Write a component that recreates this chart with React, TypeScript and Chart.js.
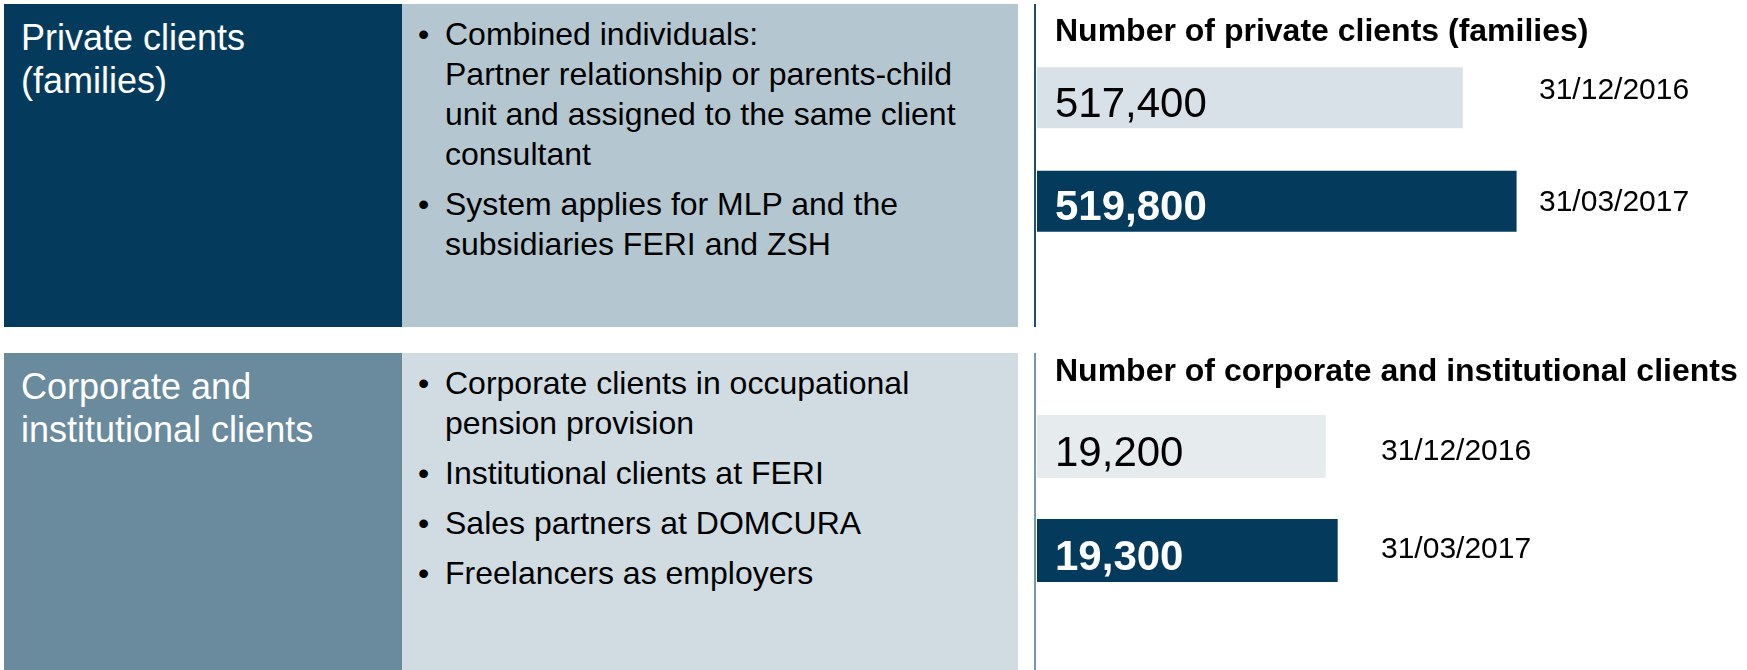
import React, { useEffect, useRef } from 'react';
import { Chart, registerables } from 'chart.js';

Chart.register(...registerables);

const FONT = '"Liberation Sans", Arial, Helvetica, sans-serif';
const NAVY = '#043b5c';

// ---- data ----
const DATES = ['31/12/2016', '31/03/2017'];
const PRIVATE_VALUES = [517400, 519800];
const CORPORATE_VALUES = [19200, 19300];
const PRIVATE_RANGE = [498400, 520800];
const CORPORATE_RANGE = [16800, 19660];
// range of the right-hand date axis (index units)
const PRIVATE_DATE_RANGE = [-0.404, 1.449];
const CORPORATE_DATE_RANGE = [-0.589, 1.544];

const PRIVATE_TITLE = 'Number of private clients (families)';
const CORPORATE_TITLE = 'Number of corporate and institutional clients';

const PRIVATE_HEADING = ['Private clients', '(families)'];
const CORPORATE_HEADING = ['Corporate and', 'institutional clients'];

const PRIVATE_BULLETS = [
  ['Combined individuals:', 'Partner relationship or parents-child', 'unit and assigned to the same client', 'consultant'],
  ['System applies for MLP and the', 'subsidiaries FERI and ZSH'],
];
const CORPORATE_BULLETS = [
  ['Corporate clients in occupational', 'pension provision'],
  ['Institutional clients at FERI'],
  ['Sales partners at DOMCURA'],
  ['Freelancers as employers'],
];

const panelDecor = {
  id: 'panelDecor',
  afterDatasetsDraw(chart: any, _args: any, opts: any) {
    const { ctx, chartArea } = chart;
    const meta = chart.getDatasetMeta(0);
    const data = chart.data.datasets[0].data as number[];
    ctx.save();
    ctx.textAlign = 'left';
    ctx.textBaseline = 'alphabetic';
    ctx.font = `bold 32px ${FONT}`;
    ctx.fillStyle = '#000';
    ctx.fillText(opts.title, chartArea.left + opts.inset, opts.titleBaseline);
    meta.data.forEach((bar: any, i: number) => {
      const strong = i === data.length - 1;
      ctx.font = `${strong ? 'bold ' : ''}42px ${FONT}`;
      ctx.fillStyle = strong ? '#ffffff' : '#000000';
      ctx.fillText(Number(data[i]).toLocaleString('en-US'), chartArea.left + opts.inset, bar.y + opts.labelDrop);
    });
    ctx.restore();
  },
};

type BarPanelProps = {
  values: number[];
  range: number[];
  dateRange: number[];
  title: string;
  top: number;
  height: number;
  padTop: number;
  padBottom: number;
  axisWidth: number;
  catPct: number;
  titleBaseline: number;
  lightColor: string;
};

function BarPanel(p: BarPanelProps) {
  const ref = useRef<HTMLCanvasElement | null>(null);
  useEffect(() => {
    if (!ref.current) return;
    const chart = new Chart(ref.current, {
      type: 'bar',
      data: {
        labels: DATES,
        datasets: [
          {
            data: p.values,
            backgroundColor: [p.lightColor, NAVY],
            borderWidth: 0,
            barPercentage: 1,
            categoryPercentage: p.catPct,
            base: p.range[0],
            yAxisID: 'y',
          } as any,
        ],
      },
      options: {
        indexAxis: 'y',
        responsive: false,
        maintainAspectRatio: false,
        animation: false,
        layout: { padding: { top: p.padTop, bottom: p.padBottom, left: 0, right: 0 } },
        plugins: {
          legend: { display: false },
          tooltip: { enabled: false },
          title: { display: false },
          panelDecor: { title: p.title, inset: 18, titleBaseline: p.titleBaseline, labelDrop: 19 },
        } as any,
        scales: {
          x: { display: false, min: p.range[0], max: p.range[1] },
          y: { display: false },
          dates: {
            type: 'linear',
            axis: 'y',
            position: 'right',
            reverse: true,
            offset: false,
            min: p.dateRange[0],
            max: p.dateRange[1],
            grid: { display: false, drawTicks: false, offset: false },
            border: { display: false },
            afterBuildTicks: (s: any) => {
              s.ticks = DATES.map((_d, i) => ({ value: i }));
            },
            ticks: {
              color: '#000',
              font: { family: FONT, size: 30 },
              padding: 0,
              autoSkip: false,
              callback: (_v: any, i: number) => DATES[i],
            },
            afterFit: (s: any) => {
              s.width = p.axisWidth;
            },
          } as any,
        },
      },
      plugins: [panelDecor as any],
    });
    return () => chart.destroy();
  }, []);
  return (
    <canvas
      ref={ref}
      width={710}
      height={p.height}
      style={{ position: 'absolute', left: 1037, top: p.top, width: 710, height: p.height }}
    />
  );
}

function Bullets({ items }: { items: string[][] }) {
  return (
    <div style={{ paddingTop: 10 }}>
      {items.map((lines, i) => (
        <div key={i} style={{ position: 'relative', marginBottom: 10 }}>
          <span style={{ position: 'absolute', left: 16, top: 0 }}>•</span>
          <div style={{ marginLeft: 43 }}>
            {lines.map((l, j) => (
              <div key={j}>{l}</div>
            ))}
          </div>
        </div>
      ))}
    </div>
  );
}

function Row(props: {
  top: number;
  height: number;
  leftColor: string;
  midColor: string;
  lineColor: string;
  heading: string[];
  bullets: string[][];
}) {
  return (
    <>
      <div
        style={{
          position: 'absolute',
          left: 4,
          top: props.top,
          width: 398,
          height: props.height,
          background: props.leftColor,
          color: '#fff',
          fontSize: 36,
          lineHeight: '43px',
          boxSizing: 'border-box',
          paddingTop: 12,
          paddingLeft: 17,
          whiteSpace: 'nowrap',
        }}
      >
        {props.heading.map((h, i) => (
          <div key={i}>{h}</div>
        ))}
      </div>
      <div
        style={{
          position: 'absolute',
          left: 402,
          top: props.top,
          width: 616,
          height: props.height,
          background: props.midColor,
          color: '#000',
          fontSize: 32,
          lineHeight: '40px',
          whiteSpace: 'nowrap',
        }}
      >
        <Bullets items={props.bullets} />
      </div>
      <div
        style={{
          position: 'absolute',
          left: 1034,
          top: props.top,
          width: 2,
          height: props.height,
          background: props.lineColor,
        }}
      />
    </>
  );
}

export default function App() {
  return (
    <div
      style={{
        position: 'fixed',
        left: 0,
        top: 0,
        width: 1747,
        height: 670,
        background: '#fff',
        fontFamily: FONT,
        overflow: 'hidden',
      }}
    >
      <Row
        top={4}
        height={323}
        leftColor={NAVY}
        midColor="#b4c6d0"
        lineColor="#1f4d6d"
        heading={PRIVATE_HEADING}
        bullets={PRIVATE_BULLETS}
      />
      <Row
        top={353}
        height={317}
        leftColor="#6a8b9e"
        midColor="#d0dce2"
        lineColor="#7896aa"
        heading={CORPORATE_HEADING}
        bullets={CORPORATE_BULLETS}
      />
      <BarPanel
        values={PRIVATE_VALUES}
        range={PRIVATE_RANGE}
        dateRange={PRIVATE_DATE_RANGE}
        title={PRIVATE_TITLE}
        top={0}
        height={330}
        padTop={46}
        padBottom={77}
        axisWidth={208}
        catPct={0.59}
        titleBaseline={41}
        lightColor="#d9e1e8"
      />
      <BarPanel
        values={CORPORATE_VALUES}
        range={CORPORATE_RANGE}
        dateRange={CORPORATE_DATE_RANGE}
        title={CORPORATE_TITLE}
        top={330}
        height={340}
        padTop={64.5}
        padBottom={67.5}
        axisWidth={366}
        catPct={0.606}
        titleBaseline={51}
        lightColor="#e6ebee"
      />
    </div>
  );
}
